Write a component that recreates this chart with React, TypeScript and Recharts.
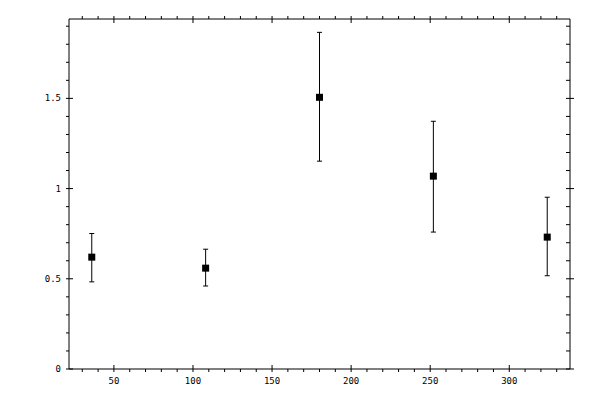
import React from 'react';
import { ScatterChart, Scatter, XAxis, YAxis, ErrorBar } from 'recharts';

// values
const xValues = [36, 108, 180, 252, 324];
const yValues = [0.62, 0.559, 1.506, 1.069, 0.731];
const yLow = [0.483, 0.46, 1.152, 0.759, 0.517];
const yHigh = [0.751, 0.664, 1.866, 1.373, 0.952];

const xTicks = [30, 40, 50, 60, 70, 80, 90, 100, 110, 120, 130, 140, 150, 160, 170, 180, 190, 200, 210, 220, 230, 240, 250, 260, 270, 280, 290, 300, 310, 320, 330];
const yTicks = [0, 0.1, 0.2, 0.3, 0.4, 0.5, 0.6, 0.7, 0.8, 0.9, 1, 1.1, 1.2, 1.3, 1.4, 1.5, 1.6, 1.7, 1.8, 1.9];

const X_DOMAIN: [number, number] = [21.6, 338.4];
const Y_DOMAIN: [number, number] = [0, 1.94];

const FONT = '"DejaVu Sans Mono", monospace';

const data = xValues.map((x, i) => ({
  x,
  y: yValues[i],
  err: [yValues[i] - yLow[i], yHigh[i] - yValues[i]],
}));

const isMajorX = (v: number) => Math.abs(v / 50 - Math.round(v / 50)) < 1e-6;
const isMajorY = (v: number) => Math.abs(v * 2 - Math.round(v * 2)) < 1e-6;

const fmtY = (v: number) => (Math.abs(v - Math.round(v)) < 1e-6 ? String(Math.round(v)) : v.toFixed(1));

// tick renderers: lines drawn by hand so minor ticks can be shorter
const BottomTick = (props: any) => {
  const { x, y, payload } = props;
  const major = isMajorX(payload.value);
  return (
    <g>
      <line x1={x} x2={x} y1={major ? y - 4 : y} y2={y + 3} stroke="#000" />
      {major && (
        <text x={x} y={y + 15} textAnchor="middle" fontSize={9} fontFamily={FONT} fill="#000">
          {payload.value}
        </text>
      )}
    </g>
  );
};

const TopTick = (props: any) => {
  const { x, y, payload } = props;
  const major = isMajorX(payload.value);
  return <line x1={x} x2={x} y1={y - 3} y2={major ? y + 4 : y} stroke="#000" />;
};

const LeftTick = (props: any) => {
  const { x, y, payload } = props;
  const major = isMajorY(payload.value);
  return (
    <g>
      <line x1={x - 3} x2={major ? x + 4 : x} y1={y} y2={y} stroke="#000" />
      {major && (
        <text x={x - 8} y={y + 3} textAnchor="end" fontSize={9} fontFamily={FONT} fill="#000">
          {fmtY(payload.value)}
        </text>
      )}
    </g>
  );
};

const RightTick = (props: any) => {
  const { x, y, payload } = props;
  const major = isMajorY(payload.value);
  return <line x1={x - 4} x2={major ? x + 4 : x} y1={y} y2={y} stroke="#000" />;
};

const SquareDot = (props: any) => {
  const { cx, cy } = props;
  return <rect x={cx - 3.5} y={cy - 3.5} width={7} height={7} fill="#000" />;
};

export default function App() {
  return (
    <div style={{ position: 'absolute', left: 0, top: 0, width: 600, height: 400, background: '#fff' }}>
      <ScatterChart width={600} height={400} margin={{ top: 18, right: 29, bottom: 30, left: 68 }}>
        <XAxis
          xAxisId="bottom"
          type="number"
          dataKey="x"
          domain={X_DOMAIN}
          allowDataOverflow
          ticks={xTicks}
          interval={0}
          height={1}
          tickSize={0}
          tickMargin={0}
          tickLine={false}
          axisLine={{ stroke: '#000' }}
          tick={<BottomTick />}
        />
        <XAxis
          xAxisId="top"
          orientation="top"
          type="number"
          dataKey="x"
          domain={X_DOMAIN}
          allowDataOverflow
          ticks={xTicks}
          interval={0}
          height={1}
          tickSize={0}
          tickMargin={0}
          tickLine={false}
          axisLine={{ stroke: '#000' }}
          tick={<TopTick />}
        />
        <YAxis
          yAxisId="left"
          type="number"
          dataKey="y"
          domain={Y_DOMAIN}
          allowDataOverflow
          ticks={yTicks}
          interval={0}
          width={1}
          tickSize={0}
          tickMargin={0}
          tickLine={false}
          axisLine={{ stroke: '#000' }}
          tick={<LeftTick />}
        />
        <YAxis
          yAxisId="right"
          orientation="right"
          type="number"
          dataKey="y"
          domain={Y_DOMAIN}
          allowDataOverflow
          ticks={yTicks}
          interval={0}
          width={1}
          tickSize={0}
          tickMargin={0}
          tickLine={false}
          axisLine={{ stroke: '#000' }}
          tick={<RightTick />}
        />
        <Scatter
          data={data}
          xAxisId="bottom"
          yAxisId="left"
          fill="#000"
          shape={<SquareDot />}
          isAnimationActive={false}
        >
          <ErrorBar dataKey="err" direction="y" width={2.5} stroke="#000" strokeWidth={1} isAnimationActive={false} />
        </Scatter>
        <Scatter
          data={data}
          xAxisId="top"
          yAxisId="right"
          shape={() => null}
          isAnimationActive={false}
        />
      </ScatterChart>
    </div>
  );
}
